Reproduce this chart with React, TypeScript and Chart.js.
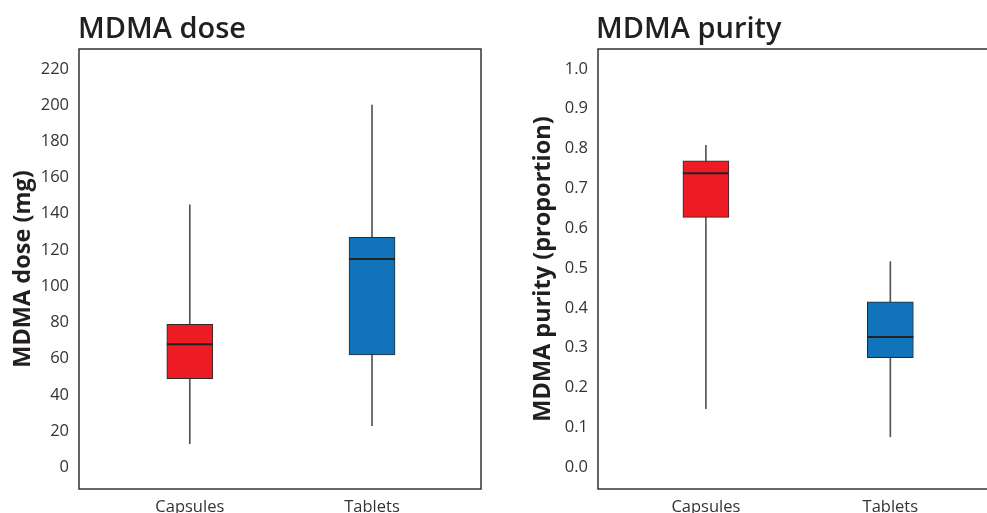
import React, { useEffect, useRef } from "react";
import { Chart, registerables } from "chart.js";

Chart.register(...registerables);

// ---- data ----
const categories = ["Capsules", "Tablets"];

const doseMin = [13, 23];
const doseQ1 = [49, 62];
const doseMedian = [68, 115];
const doseQ3 = [79, 127];
const doseMax = [145, 200];

const purityMin = [0.147, 0.076];
const purityQ1 = [0.627, 0.275];
const purityMedian = [0.738, 0.327];
const purityQ3 = [0.769, 0.415];
const purityMax = [0.808, 0.516];

const boxColors = ["#ED1C24", "#1173BA"];

const FONT = "'Open Sans', 'DejaVu Sans', sans-serif";

const framePlugin = {
  id: "frame",
  afterDraw(chart: any) {
    const { ctx, chartArea } = chart;
    ctx.save();
    ctx.strokeStyle = "#333";
    ctx.lineWidth = 1.5;
    ctx.strokeRect(chartArea.left, chartArea.top, chartArea.right - chartArea.left, chartArea.bottom - chartArea.top);
    ctx.restore();
  },
};

type BoxOpts = {
  min: number[];
  q1: number[];
  med: number[];
  q3: number[];
  max: number[];
  yTitle: string;
  yMin: number;
  yMax: number;
  step: number;
  decimals: number;
  xMin: number;
  xMax: number;
  yAxisWidth: number;
  titlePad: number;
  padRight: number;
};

function makeConfig(o: BoxOpts): any {
  const pts = (arr: number[]) => categories.map((_, i) => ({ x: i + 1, y: arr[i] }));
  const ranges = (a: number[], b: number[]) => categories.map((_, i) => ({ x: i + 1, y: [a[i], b[i]] }));
  return {
    type: "bar",
    data: {
      datasets: [
        {
          type: "bar",
          label: "whisker",
          data: ranges(o.min, o.max),
          backgroundColor: "#555",
          barThickness: 1,
          grouped: false,
          order: 3,
        },
        {
          type: "bar",
          label: "box",
          data: ranges(o.q1, o.q3),
          backgroundColor: boxColors,
          borderColor: "#2a2a2a",
          borderWidth: 1,
          borderSkipped: false,
          barThickness: 46,
          grouped: false,
          order: 2,
        },
        {
          type: "line",
          label: "median",
          data: pts(o.med),
          showLine: false,
          pointStyle: "line",
          pointRadius: 23,
          pointHoverRadius: 23,
          borderColor: "#222",
          pointBorderColor: "#222",
          borderWidth: 2,
          pointBorderWidth: 2,
          order: 1,
        },
      ],
    },
    options: {
      animation: false,
      responsive: false,
      maintainAspectRatio: false,
      layout: { autoPadding: false, padding: { top: 49, left: 0, right: o.padRight, bottom: 0 } },
      plugins: { legend: { display: false }, tooltip: { enabled: false }, title: { display: false } },
      scales: {
        x: {
          type: "linear",
          offset: false,
          min: o.xMin,
          max: o.xMax,
          grid: { display: false, drawTicks: false, offset: false },
          border: { display: false },
          afterBuildTicks: (s: any) => {
            s.ticks = categories.map((_, i) => ({ value: i + 1 }));
          },
          afterFit: (s: any) => {
            s.height = 51;
            s.paddingLeft = 0;
            s.paddingRight = 0;
          },
          ticks: {
            autoSkip: false,
            maxRotation: 0,
            padding: 8,
            color: "#333",
            font: { family: FONT, size: 16.5 },
            callback: (v: number) => categories[Math.round(v) - 1] ?? "",
          },
        },
        y: {
          type: "linear",
          min: o.yMin,
          max: o.yMax,
          grid: { display: false, drawTicks: false },
          border: { display: false },
          afterFit: (s: any) => {
            s.width = o.yAxisWidth;
          },
          ticks: {
            stepSize: o.step,
            includeBounds: false,
            padding: 10,
            color: "#333",
            font: { family: FONT, size: 16.5 },
            callback: (v: number) => Number(v).toFixed(o.decimals),
          },
          title: {
            display: true,
            text: o.yTitle,
            color: "#231f20",
            font: { family: FONT, size: 23.5, weight: "bold" },
            padding: { top: o.titlePad, bottom: 0 },
          },
        },
      },
    },
    plugins: [framePlugin],
  };
}

function BoxChart({ opts, width, height }: { opts: BoxOpts; width: number; height: number }) {
  const ref = useRef<HTMLCanvasElement | null>(null);
  useEffect(() => {
    if (!ref.current) return;
    const chart = new Chart(ref.current, makeConfig(opts));
    return () => chart.destroy();
  }, []);
  return <canvas ref={ref} width={width} height={height} style={{ display: "block", width, height }} />;
}

const titleStyle: React.CSSProperties = {
  position: "absolute",
  top: 7,
  fontFamily: FONT,
  fontSize: 29,
  fontWeight: 600,
  color: "#231f20",
  lineHeight: "40px",
  whiteSpace: "nowrap",
};

export default function App() {
  return (
    <div
      style={{
        position: "fixed",
        left: 0,
        top: 0,
        width: 987,
        height: 513,
        overflow: "hidden",
        background: "#fff",
      }}
    >
      <div style={{ position: "absolute", left: 0, top: 0 }}>
        <BoxChart
          width={500}
          height={540}
          opts={{
            min: doseMin,
            q1: doseQ1,
            med: doseMedian,
            q3: doseQ3,
            max: doseMax,
            yTitle: "MDMA dose (mg)",
            yMin: -12,
            yMax: 231,
            step: 20,
            decimals: 0,
            xMin: 0.392,
            xMax: 2.598,
            yAxisWidth: 79,
            titlePad: 9,
            padRight: 19,
          }}
        />
      </div>
      <div style={{ position: "absolute", left: 500, top: 0 }}>
        <BoxChart
          width={520}
          height={540}
          opts={{
            min: purityMin,
            q1: purityQ1,
            med: purityMedian,
            q3: purityQ3,
            max: purityMax,
            yTitle: "MDMA purity (proportion)",
            yMin: -0.055,
            yMax: 1.05,
            step: 0.1,
            decimals: 1,
            xMin: 0.415,
            xMax: 2.6,
            yAxisWidth: 98,
            titlePad: 29,
            padRight: 19,
          }}
        />
      </div>
      <div style={{ ...titleStyle, left: 78 }}>MDMA dose</div>
      <div style={{ ...titleStyle, left: 596 }}>MDMA purity</div>
    </div>
  );
}
